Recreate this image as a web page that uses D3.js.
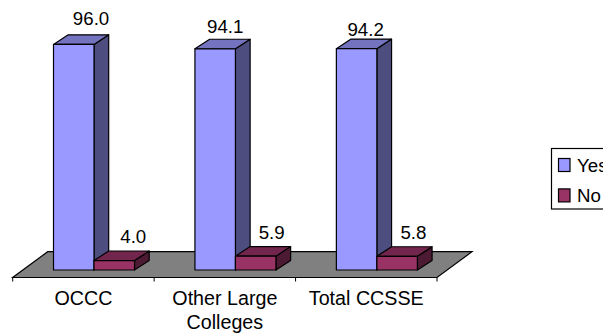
<!DOCTYPE html>
<html>
<head>
<meta charset="utf-8">
<style>
html,body{margin:0;padding:0;background:#fff;overflow:hidden}
svg{display:block}
text{font-family:"Liberation Sans",Arial,sans-serif;font-size:18.7px;fill:#000}
text.cat{font-size:19.7px}
</style>
<script src="https://cdn.jsdelivr.net/npm/d3@7/dist/d3.min.js"></script>
</head>
<body>
<script>
const categories = [["OCCC"], ["Other Large", "Colleges"], ["Total CCSSE"]];
const seriesNames = ["Yes", "No"];
const yesValues = [96.0, 94.1, 94.2];
const noValues = [4.0, 5.9, 5.8];
const seriesValues = [yesValues, noValues];
const fronts = ["#9999ff", "#993366"];
const tops = ["#7373bf", "#73264d"];
const sides = ["#4d4d80", "#4d1a33"];

const svg = d3.select("body").append("svg").attr("width", 603).attr("height", 333);

const x = d3.scaleBand().domain(categories.map((c, i) => i)).range([12.7, 437]);
const inner = d3.scaleBand().domain(seriesNames.map((s, i) => i)).range([40.8, 121.8]);
const y = d3.scaleLinear().domain([0, 100]).range([270, 35]);

const barDx = 14.7, barDy = 9.6;
const line = pts => "M" + pts.map(p => p.join(",")).join("L") + "Z";

// floor parallelogram under the bars
const floorFrontY = 277.5, floorBackY = 251.7, floorDx = 35;
svg.append("path")
  .attr("d", line([[x.range()[0], floorFrontY], [x.range()[1], floorFrontY],
                   [x.range()[1] + floorDx, floorBackY], [x.range()[0] + floorDx, floorBackY]]))
  .attr("fill", "#808080").attr("stroke", "#000").attr("stroke-width", 1.2);

// category separators below the floor edge
const tickPositions = d3.range(categories.length + 1).map(i => x.range()[0] + i * x.step());
svg.selectAll(".tick").data(tickPositions).join("line")
  .attr("class", "tick")
  .attr("x1", d => d).attr("x2", d => d)
  .attr("y1", floorFrontY).attr("y2", floorFrontY + 4)
  .attr("stroke", "#000");

// extruded bars, one prism per value
categories.forEach((c, ci) => {
  seriesValues.forEach((vals, si) => {
    const v = vals[ci];
    const x0 = x(ci) + inner(si), x1 = x0 + inner.bandwidth();
    const yTop = y(v), yBase = y(0);
    const g = svg.append("g").attr("stroke", "#000").attr("stroke-width", 1.2).attr("stroke-linejoin", "round");
    g.append("path").attr("fill", sides[si])
      .attr("d", line([[x1, yTop], [x1 + barDx, yTop - barDy], [x1 + barDx, yBase - barDy], [x1, yBase]]));
    g.append("path").attr("fill", tops[si])
      .attr("d", line([[x0, yTop], [x1, yTop], [x1 + barDx, yTop - barDy], [x0 + barDx, yTop - barDy]]));
    g.append("path").attr("fill", fronts[si])
      .attr("d", line([[x0, yTop], [x1, yTop], [x1, yBase], [x0, yBase]]));
  });
});

// value labels sit above each prism; the tall first label stands a little further right
const labelNudge = [[[17.3, -19.4], [19, -17.6]], [[10, -16], [16, -17]], [[9, -12.4], [16.3, -17]]];
categories.forEach((c, ci) => {
  seriesValues.forEach((vals, si) => {
    const v = vals[ci];
    svg.append("text")
      .attr("x", x(ci) + inner(si) + inner.bandwidth() / 2 + labelNudge[ci][si][0])
      .attr("y", y(v) + labelNudge[ci][si][1])
      .attr("text-anchor", "middle")
      .text(v.toFixed(1));
  });
});

// category labels
categories.forEach((lines, ci) => {
  lines.forEach((t, li) => {
    svg.append("text")
      .attr("class", "cat")
      .attr("x", x(ci) + x.bandwidth() / 2)
      .attr("y", 304.5 + li * 24.5)
      .attr("text-anchor", "middle")
      .text(t);
  });
});

// legend
svg.append("rect").attr("x", 551.5).attr("y", 148.5).attr("width", 80).attr("height", 60.5)
  .attr("fill", "#fff").attr("stroke", "#000").attr("stroke-width", 1.2);
seriesNames.forEach((s, i) => {
  const cy = 165 + i * 30.4;
  svg.append("rect").attr("x", 558.5).attr("y", cy - 6.5).attr("width", 11.5).attr("height", 13)
    .attr("fill", fronts[i]).attr("stroke", "#000").attr("stroke-width", 1.2);
  svg.append("text").attr("x", 577).attr("y", cy + 6.5).text(s);
});
</script>
</body>
</html>
